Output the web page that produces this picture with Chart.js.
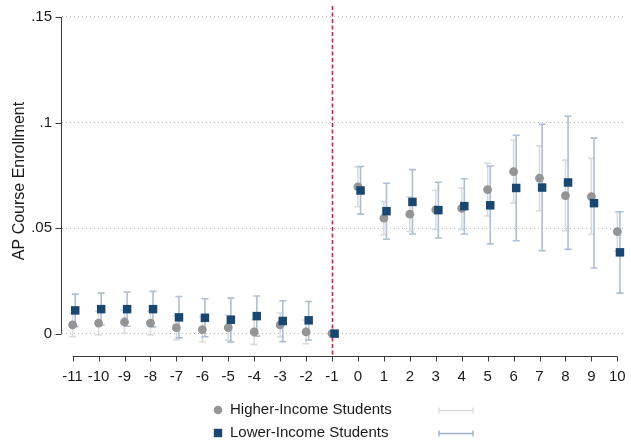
<!DOCTYPE html>
<html>
<head>
<meta charset="utf-8">
<script src="https://cdn.jsdelivr.net/npm/chart.js@4.4.1/dist/chart.umd.min.js"></script>
<style>
  html, body { margin: 0; padding: 0; background: #ffffff; }
  #wrap { width: 631px; height: 445px; position: relative; }
</style>
</head>
<body>
<div id="wrap"><canvas id="c"></canvas></div>
<script>
// Event-study estimates of AP course enrollment by year relative to treatment (-1 = reference year)
const periods = [-11, -10, -9, -8, -7, -6, -5, -4, -3, -2, -1, 0, 1, 2, 3, 4, 5, 6, 7, 8, 9, 10];

const higherIncome     = [0.0041, 0.0050, 0.0055, 0.0050, 0.0028, 0.0019, 0.0028, 0.0008, 0.0041, 0.0008, 0,
                          0.0695, 0.0547, 0.0566, 0.0586, 0.0593, 0.0682, 0.0767, 0.0736, 0.0654, 0.0649, 0.0483];
const higherIncomeLow  = [-0.0014, -0.0006, 0.0001, -0.0006, -0.0030, -0.0040, -0.0031, -0.0051, -0.0016, -0.0048, null,
                          0.0601, 0.0469, 0.0484, 0.0494, 0.0494, 0.0558, 0.0618, 0.0582, 0.0487, 0.0470, 0.0390];
const higherIncomeHigh = [0.0096, 0.0106, 0.0110, 0.0106, 0.0086, 0.0078, 0.0087, 0.0067, 0.0098, 0.0064, null,
                          0.0790, 0.0626, 0.0648, 0.0679, 0.0690, 0.0807, 0.0917, 0.0890, 0.0822, 0.0830, 0.0576];

const lowerIncome      = [0.0110, 0.0116, 0.0116, 0.0116, 0.0077, 0.0075, 0.0066, 0.0083, 0.0060, 0.0063, 0,
                          0.0678, 0.0580, 0.0624, 0.0585, 0.0604, 0.0608, 0.0690, 0.0692, 0.0716, 0.0618, 0.0385];
const lowerIncomeLow   = [0.0033, 0.0040, 0.0035, 0.0032, -0.0020, -0.0015, -0.0039, -0.0012, -0.0038, -0.0030, null,
                          0.0566, 0.0447, 0.0472, 0.0453, 0.0472, 0.0425, 0.0440, 0.0393, 0.0399, 0.0311, 0.0192];
const lowerIncomeHigh  = [0.0187, 0.0192, 0.0197, 0.0200, 0.0176, 0.0165, 0.0168, 0.0178, 0.0156, 0.0152, null,
                          0.0792, 0.0712, 0.0777, 0.0717, 0.0734, 0.0794, 0.0940, 0.0992, 0.1030, 0.0926, 0.0577];

const yTickValues = [0, 0.05, 0.1, 0.15];
const seriesLabels = ['Higher-Income Students', 'Lower-Income Students'];
const yTitle = 'AP Course Enrollment';
const referencePeriod = -1;

// Styling
const FONT = "'Liberation Sans', Arial, Helvetica, sans-serif";
const TEXT = '#1a1a1a';
const AXIS = '#3a3a3a';
const higherColor = '#959595';
const lowerColor = '#1a476f';
const higherCiColor = '#d9dcdf';
const lowerCiColor = '#aebfd1';
const refLineColor = '#d3203b';
const lowerShift = 0.1;          // lower-income markers sit slightly right of each period

const higherPts = periods.map((p, i) => ({ x: p, y: higherIncome[i] }));
const lowerPts  = periods.map((p, i) => ({ x: p + lowerShift, y: lowerIncome[i] }));

function drawCap(ctx, xs, ys, xv, lo, hi, color, lw, capHalf) {
  if (lo === null || hi === null) return;
  const px = xs.getPixelForValue(xv);
  const y1 = ys.getPixelForValue(lo);
  const y2 = ys.getPixelForValue(hi);
  ctx.strokeStyle = color;
  ctx.lineWidth = lw;
  ctx.beginPath();
  ctx.moveTo(px, y1); ctx.lineTo(px, y2);
  ctx.moveTo(px - capHalf, y1); ctx.lineTo(px + capHalf, y1);
  ctx.moveTo(px - capHalf, y2); ctx.lineTo(px + capHalf, y2);
  ctx.stroke();
}

const decorations = {
  id: 'decorations',
  beforeDatasetsDraw(chart) {
    const { ctx, chartArea, scales: { x, y } } = chart;
    ctx.save();
    // reference-year line
    const rx = Math.round(x.getPixelForValue(referencePeriod)) + 0.5;
    ctx.strokeStyle = refLineColor;
    ctx.lineWidth = 1.6;
    ctx.setLineDash([4, 2.5]);
    ctx.beginPath();
    ctx.moveTo(rx, chartArea.top);
    ctx.lineTo(rx, chartArea.bottom);
    ctx.stroke();
    ctx.setLineDash([]);
    // confidence intervals
    periods.forEach((p, i) => drawCap(ctx, x, y, p, higherIncomeLow[i], higherIncomeHigh[i], higherCiColor, 1.6, 3.5));
    periods.forEach((p, i) => drawCap(ctx, x, y, p + lowerShift, lowerIncomeLow[i], lowerIncomeHigh[i], lowerCiColor, 1.6, 3.5));
    ctx.restore();
  },
  afterDraw(chart) {
    const { ctx, chartArea, scales: { x, y } } = chart;
    ctx.save();
    ctx.strokeStyle = AXIS;
    ctx.lineWidth = 1;
    // y axis line and ticks
    const ax = Math.round(chartArea.left) - 0.5;
    const yTop = y.getPixelForValue(yTickValues[yTickValues.length - 1]);
    const yBot = y.getPixelForValue(yTickValues[0]);
    ctx.beginPath();
    ctx.moveTo(ax, yTop); ctx.lineTo(ax, yBot);
    yTickValues.forEach(v => {
      const py = Math.round(y.getPixelForValue(v)) + 0.5;
      ctx.moveTo(ax - 6, py); ctx.lineTo(ax, py);
    });
    ctx.stroke();
    // x axis line and ticks
    const ay = Math.round(chartArea.bottom) + 0.5;
    ctx.beginPath();
    ctx.moveTo(x.getPixelForValue(periods[0]), ay);
    ctx.lineTo(x.getPixelForValue(periods[periods.length - 1]), ay);
    periods.forEach(p => {
      const px = Math.round(x.getPixelForValue(p)) + 0.5;
      ctx.moveTo(px, ay); ctx.lineTo(px, ay + 5);
    });
    ctx.stroke();

    // legend
    ctx.font = '15px ' + FONT;
    ctx.fillStyle = TEXT;
    ctx.textBaseline = 'middle';
    ctx.textAlign = 'left';
    const rows = [410, 433];
    const mx = 218, tx = 230, lx1 = 439, lx2 = 473;
    // higher-income row
    ctx.fillStyle = higherColor;
    ctx.beginPath(); ctx.arc(mx, rows[0], 4.3, 0, Math.PI * 2); ctx.fill();
    ctx.fillStyle = TEXT;
    ctx.fillText(seriesLabels[0], tx, rows[0]);
    // lower-income row
    ctx.fillStyle = lowerColor;
    ctx.fillRect(mx - 4.2, rows[1] - 4.2, 8.4, 8.4);
    ctx.fillStyle = TEXT;
    ctx.fillText(seriesLabels[1], tx, rows[1]);
    // interval keys
    [[rows[0], higherCiColor], [rows[1], '#9fb2c7']].forEach(([ry, col]) => {
      const yy = Math.round(ry) + 0.5;
      ctx.strokeStyle = col;
      ctx.lineWidth = 1.4;
      ctx.beginPath();
      ctx.moveTo(lx1, yy); ctx.lineTo(lx2, yy);
      ctx.moveTo(lx1, yy - 3); ctx.lineTo(lx1, yy + 3);
      ctx.moveTo(lx2, yy - 3); ctx.lineTo(lx2, yy + 3);
      ctx.stroke();
    });
    ctx.restore();
  }
};

new Chart(document.getElementById('c'), {
  type: 'scatter',
  data: {
    datasets: [
      {
        label: seriesLabels[1],
        data: lowerPts,
        pointStyle: 'rect',
        pointRadius: 6,
        pointHoverRadius: 6,
        backgroundColor: lowerColor,
        borderColor: lowerColor,
        borderWidth: 0,
        order: 1,
        clip: false
      },
      {
        label: seriesLabels[0],
        data: higherPts,
        pointStyle: 'circle',
        pointRadius: 4.4,
        pointHoverRadius: 4.4,
        backgroundColor: higherColor,
        borderColor: higherColor,
        borderWidth: 0,
        order: 2,
        clip: false
      }
    ]
  },
  options: {
    responsive: true,
    maintainAspectRatio: false,
    animation: false,
    devicePixelRatio: 1,
    layout: { padding: { top: 4, right: 2, left: 0, bottom: 0 } },
    plugins: {
      legend: { display: false },
      tooltip: { enabled: false }
    },
    scales: {
      x: {
        type: 'linear',
        min: -11.41,
        max: 10.295,
        afterBuildTicks: s => { s.ticks = periods.map(v => ({ value: v })); },
        afterFit: s => { s.height = 89; s.paddingLeft = 0; s.paddingRight = 0; },
        ticks: {
          autoSkip: false,
          maxRotation: 0,
          padding: 12,
          color: TEXT,
          font: { family: FONT, size: 15 },
          callback: v => String(v)
        },
        grid: { drawOnChartArea: false, drawTicks: false },
        border: { display: false }
      },
      y: {
        type: 'linear',
        min: -0.0106,
        max: 0.1552,
        afterBuildTicks: s => { s.ticks = yTickValues.map(v => ({ value: v })); },
        afterFit: s => { s.width = 62; s.paddingTop = 0; s.paddingBottom = 0; },
        ticks: {
          padding: 10,
          color: TEXT,
          font: { family: FONT, size: 15 },
          callback: v => (v === 0 ? '0' : String(v).replace(/^0/, ''))
        },
        grid: { drawTicks: false, color: '#b4b4b4', lineWidth: 1 },
        border: { display: false, dash: [1, 3] },
        title: {
          display: true,
          text: yTitle,
          color: TEXT,
          font: { family: FONT, size: 16 },
          padding: { top: 10, bottom: 0 }
        }
      }
    }
  },
  plugins: [decorations]
});
</script>
</body>
</html>
